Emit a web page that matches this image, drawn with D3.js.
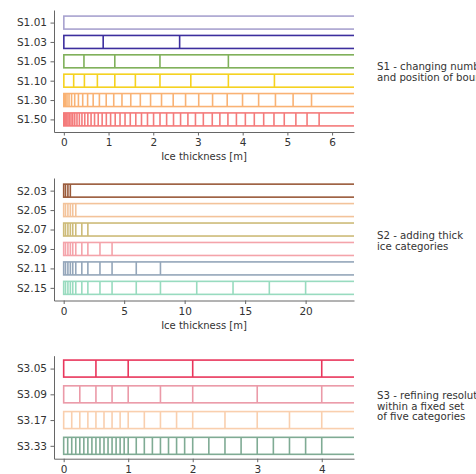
<!DOCTYPE html>
<html>
<head>
<meta charset="utf-8">
<script src="https://cdn.jsdelivr.net/npm/d3@7"></script>
<style>
  body { margin: 0; background: #fff; }
  svg { display: block; }
  text { font-family: "DejaVu Sans", sans-serif; }
</style>
</head>
<body>
<script>
// category boundaries (m)
const s1Names = ["S1.01", "S1.03", "S1.05", "S1.10", "S1.30", "S1.50"];
const s1Colors = ["#a8a2cf", "#3d2f9e", "#7fb05a", "#f5d21f", "#f9b274", "#f47b7b"];
const s1Bounds = [
    [],
    [0.88, 2.59],
    [0.45, 1.14, 2.15, 3.68],
    [0.22, 0.46, 0.75, 1.14, 1.6, 2.15, 2.84, 3.68, 4.71],
    [0.003, 0.015, 0.038, 0.071, 0.116, 0.173, 0.243, 0.326, 0.422, 0.532, 0.656, 0.795, 0.948, 1.116, 1.30,
     1.497, 1.711, 1.94, 2.185, 2.446, 2.723, 3.017, 3.327, 3.654, 3.997, 4.357, 4.733, 5.128, 5.54],
    [0.002, 0.007, 0.016, 0.029, 0.047, 0.068, 0.094, 0.125, 0.161, 0.200, 0.244, 0.294, 0.347, 0.405, 0.468,
     0.537, 0.609, 0.687, 0.769, 0.857, 0.950, 1.046, 1.149, 1.257, 1.369, 1.486, 1.609, 1.737, 1.871, 2.007,
     2.151, 2.299, 2.453, 2.611, 2.775, 2.944, 3.12, 3.32, 3.49, 3.67, 3.86, 4.06, 4.26, 4.47, 4.70, 4.93,
     5.19, 5.44, 5.71]
];
const s1Ticks = [0, 1, 2, 3, 4, 5, 6];

const s2Names = ["S2.03", "S2.05", "S2.07", "S2.09", "S2.11", "S2.15"];
const s2Colors = ["#9a5a3a", "#f3c39a", "#cdbb78", "#f4a3aa", "#94a6ba", "#98dbbf"];
const s2Bounds = [
    [0.15, 0.35, 0.55],
    [0.15, 0.35, 0.55, 0.75, 1],
    [0.15, 0.35, 0.55, 0.75, 1, 1.5, 2],
    [0.15, 0.35, 0.55, 0.75, 1, 1.5, 2, 3, 4],
    [0.15, 0.35, 0.55, 0.75, 1, 1.5, 2, 3, 4, 6, 8],
    [0.15, 0.35, 0.55, 0.75, 1, 1.5, 2, 3, 4, 6, 8, 11, 14, 17, 20]
];
const s2Ticks = [0, 5, 10, 15, 20];

const s3Names = ["S3.05", "S3.09", "S3.17", "S3.33"];
const s3Colors = ["#e9365c", "#eb9aa8", "#f9cfae", "#7fab94"];
const s3Bounds = [
    [0.5, 1, 2, 4],
    [0.25, 0.5, 0.75, 1, 1.5, 2, 3, 4],
    [0.125, 0.25, 0.375, 0.5, 0.625, 0.75, 0.875, 1, 1.25, 1.5, 1.75, 2, 2.5, 3, 3.5, 4],
    [0.0625, 0.125, 0.1875, 0.25, 0.3125, 0.375, 0.4375, 0.5, 0.5625, 0.625, 0.6875, 0.75, 0.8125, 0.875,
     0.9375, 1, 1.125, 1.25, 1.375, 1.5, 1.625, 1.75, 1.875, 2, 2.25, 2.5, 2.75, 3, 3.25, 3.5, 3.75, 4]
];
const s3Ticks = [0, 1, 2, 3, 4];

const notes1 = ["S1 - changing number of categories", "and position of boundaries"];
const notes2 = ["S2 - adding thick", "ice categories"];
const notes3 = ["S3 - refining resolution", "within a fixed set", "of five categories"];

const width = 476, height = 474;
const left = 54, right = 354;

const svg = d3.select("body").append("svg")
    .attr("width", width)
    .attr("height", height);

function drawPanel(id, names, colors, bounds, ticks, xDom, top, bottom, pad, barH, xlabel, notes, noteY) {
    const x = d3.scaleLinear().domain(xDom).range([left, right]);
    const y = d3.scalePoint().domain(names).range([top, bottom]).padding(pad);

    svg.append("clipPath").attr("id", "clip" + id)
      .append("rect")
        .attr("x", left).attr("y", top - 5)
        .attr("width", right - left).attr("height", bottom - top + 10);

    const g = svg.append("g").attr("clip-path", "url(#clip" + id + ")");

    names.forEach(function(n, i) {
        const row = g.append("g")
            .attr("stroke", colors[i])
            .attr("stroke-width", 1.6)
            .attr("fill", "none");
        row.append("rect")
            .attr("x", x(0))
            .attr("y", y(n) - barH / 2)
            .attr("width", x(xDom[1]) - x(0) + 10)
            .attr("height", barH);
        row.selectAll("line")
            .data(bounds[i])
          .enter().append("line")
            .attr("x1", d => x(d)).attr("x2", d => x(d))
            .attr("y1", y(n) - barH / 2).attr("y2", y(n) + barH / 2);
    });

    const ya = svg.append("g")
        .attr("transform", "translate(" + left + ",0)")
        .call(d3.axisLeft(y).tickSize(3.5).tickSizeOuter(0).tickPadding(3.5));
    const xa = svg.append("g")
        .attr("transform", "translate(0," + bottom + ")")
        .call(d3.axisBottom(x).tickValues(ticks).tickFormat(d3.format("d"))
            .tickSize(3.5).tickSizeOuter(0).tickPadding(3.5));
    [ya, xa].forEach(function(a) {
        a.selectAll("text").attr("font-size", "10.5px").attr("fill", "#333")
            .attr("font-family", "DejaVu Sans");
        a.selectAll("line").attr("stroke", "#666");
        a.select(".domain").attr("stroke", "#666");
    });

    if (xlabel) {
        svg.append("text")
            .attr("x", (left + right) / 2)
            .attr("y", bottom + 28)
            .attr("text-anchor", "middle")
            .attr("font-size", "10px")
            .attr("fill", "#333")
            .text(xlabel);
    }

    svg.append("g").selectAll("text")
        .data(notes)
      .enter().append("text")
        .attr("x", 377)
        .attr("y", (d, i) => noteY + i * 10.5)
        .attr("font-size", "10.2px")
        .attr("fill", "#333")
        .text(d => d);
}

drawPanel(1, s1Names, s1Colors, s1Bounds, s1Ticks, [-0.22, 6.49], 10, 132, 0.65, 13,
    "Ice thickness [m]", notes1, 70);
drawPanel(2, s2Names, s2Colors, s2Bounds, s2Ticks, [-0.8, 24.0], 178, 300.5, 0.65, 13,
    "Ice thickness [m]", notes2, 239);
drawPanel(3, s3Names, s3Colors, s3Bounds, s3Ticks, [-0.15, 4.5], 355.7, 458.7, 0.5, 17,
    null, notes3, 399);
</script>
</body>
</html>
